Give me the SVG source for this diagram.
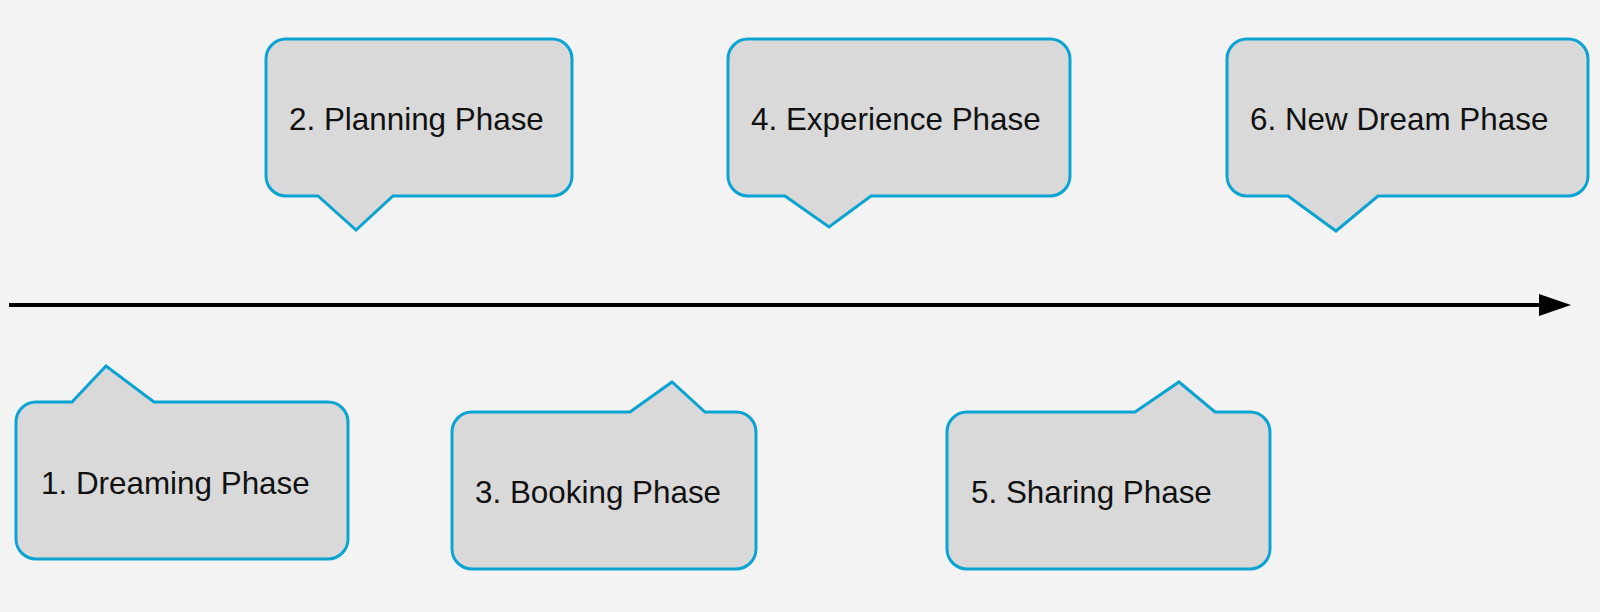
<svg xmlns="http://www.w3.org/2000/svg" width="1600" height="612" viewBox="0 0 1600 612">
<style>
.bubble{fill:#d9d9d9;stroke:#0ba3d2;stroke-width:3;stroke-linejoin:miter}
.lbl{font-family:"Liberation Sans",Arial,sans-serif;font-size:31.4px;fill:#111}
</style>
<rect width="1600" height="612" fill="#f3f3f3"/>
<g id="connectors">
<line x1="9" y1="305" x2="1542" y2="305" stroke="#000" stroke-width="4"/>
<polygon points="1539,294 1571,305 1539,316" fill="#000"/>
</g>
<g id="n1">
<path class="bubble" d="M36,402 H72 L106,366 L154,402 H328 A20,20 0 0 1 348,422 V539 A20,20 0 0 1 328,559 H36 A20,20 0 0 1 16,539 V422 A20,20 0 0 1 36,402 Z"/>
<text class="lbl" x="41" y="494">1. Dreaming Phase</text>
</g>
<g id="n2">
<path class="bubble" d="M286,39 H552 A20,20 0 0 1 572,59 V176 A20,20 0 0 1 552,196 H393 L356,230 L318,196 H286 A20,20 0 0 1 266,176 V59 A20,20 0 0 1 286,39 Z"/>
<text class="lbl" x="289" y="130">2. Planning Phase</text>
</g>
<g id="n3">
<path class="bubble" d="M472,412 H630 L672,382 L705,412 H736 A20,20 0 0 1 756,432 V549 A20,20 0 0 1 736,569 H472 A20,20 0 0 1 452,549 V432 A20,20 0 0 1 472,412 Z"/>
<text class="lbl" x="475" y="503">3. Booking Phase</text>
</g>
<g id="n4">
<path class="bubble" d="M748,39 H1050 A20,20 0 0 1 1070,59 V176 A20,20 0 0 1 1050,196 H871 L829,227 L785,196 H748 A20,20 0 0 1 728,176 V59 A20,20 0 0 1 748,39 Z"/>
<text class="lbl" x="751" y="130">4. Experience Phase</text>
</g>
<g id="n5">
<path class="bubble" d="M967,412 H1135 L1179,382 L1215,412 H1250 A20,20 0 0 1 1270,432 V549 A20,20 0 0 1 1250,569 H967 A20,20 0 0 1 947,549 V432 A20,20 0 0 1 967,412 Z"/>
<text class="lbl" x="971" y="503">5. Sharing Phase</text>
</g>
<g id="n6">
<path class="bubble" d="M1247,39 H1568 A20,20 0 0 1 1588,59 V176 A20,20 0 0 1 1568,196 H1378 L1336,231 L1288,196 H1247 A20,20 0 0 1 1227,176 V59 A20,20 0 0 1 1247,39 Z"/>
<text class="lbl" x="1250" y="130">6. New Dream Phase</text>
</g>
</svg>
